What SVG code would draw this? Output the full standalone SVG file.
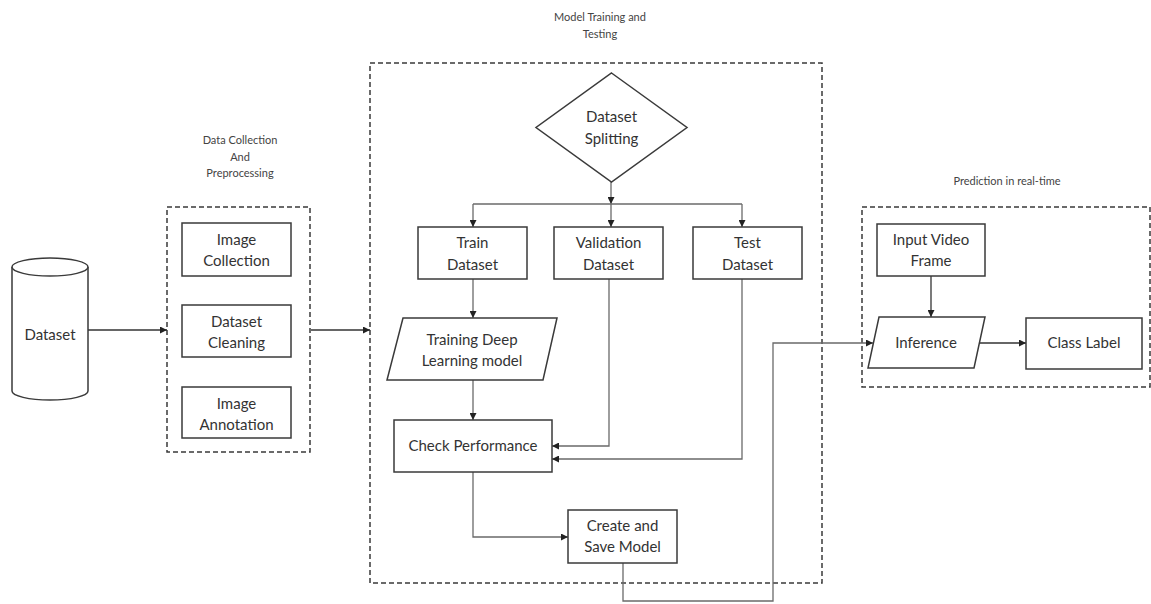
<svg xmlns="http://www.w3.org/2000/svg" width="1151" height="604" viewBox="0 0 1151 604">
<style>
.bg{fill:#ffffff}
.node{fill:#ffffff;stroke:#3a3a3a;stroke-width:1.5}
.group{fill:none;stroke:#3a3a3a;stroke-width:1.5;stroke-dasharray:5 3}
.t{font-family:Lato,"Open Sans","Liberation Sans",sans-serif;font-size:15px;fill:#333;text-anchor:middle}
.cap{font-family:Lato,"Open Sans","Liberation Sans",sans-serif;font-size:11px;fill:#444;text-anchor:middle}
.c{fill:none;stroke:#6a6a6a;stroke-width:1.3}
.cd{fill:none;stroke:#333;stroke-width:1.3}
</style>
<defs>
<marker id="ah" viewBox="0 0 10 10" refX="10" refY="5" markerWidth="7" markerHeight="7" markerUnits="userSpaceOnUse" orient="auto">
<path d="M0,0 L10,5 L0,10 z" fill="#222"/>
</marker>
</defs>
<rect class="bg" x="0" y="0" width="1151" height="604"/>

<g id="group-labels">
<text class="cap" x="240" y="144">Data Collection</text>
<text class="cap" x="240" y="161">And</text>
<text class="cap" x="240" y="177">Preprocessing</text>
<text class="cap" x="600" y="21">Model Training and</text>
<text class="cap" x="600" y="38">Testing</text>
<text class="cap" x="1007" y="185">Prediction in real-time</text>
</g>

<g id="group-boxes">
<rect class="group" x="167" y="207" width="143" height="245"/>
<rect class="group" x="370" y="63" width="452" height="520"/>
<rect class="group" x="862" y="207" width="288" height="180"/>
</g>

<g id="connectors">
<path class="cd" d="M88,330 H167" marker-end="url(#ah)"/>
<path class="cd" d="M311,330 H370" marker-end="url(#ah)"/>
<path class="c" d="M611,182 V204" marker-end="url(#ah)"/>
<path class="c" d="M473,204 H742"/>
<path class="c" d="M473,204 V227" marker-end="url(#ah)"/>
<path class="c" d="M611,204 V227" marker-end="url(#ah)"/>
<path class="c" d="M742,204 V227" marker-end="url(#ah)"/>
<path class="c" d="M473,279 V318" marker-end="url(#ah)"/>
<path class="c" d="M473,380 V420" marker-end="url(#ah)"/>
<path class="c" d="M609,279 V446 H552" marker-end="url(#ah)"/>
<path class="c" d="M742,279 V459 H552" marker-end="url(#ah)"/>
<path class="c" d="M473,472 V537 H568" marker-end="url(#ah)"/>
<path class="c" d="M623,563 V601 H773 V343 H873" marker-end="url(#ah)"/>
<path class="cd" d="M931,276 V317" marker-end="url(#ah)"/>
<path class="cd" d="M979,343 H1026" marker-end="url(#ah)"/>
</g>

<g id="node-dataset">
<path class="node" d="M12,267 V391 A38,9 0 0 0 88,391 V267"/>
<ellipse class="node" cx="50" cy="267" rx="38" ry="9"/>
<text class="t" x="50" y="340">Dataset</text>
</g>

<g id="node-image-collection">
<rect class="node" x="182" y="223" width="109" height="53"/>
<text class="t" x="236.5" y="245">Image</text>
<text class="t" x="236.5" y="266">Collection</text>
</g>

<g id="node-dataset-cleaning">
<rect class="node" x="182" y="305" width="109" height="52"/>
<text class="t" x="236.5" y="327">Dataset</text>
<text class="t" x="236.5" y="348">Cleaning</text>
</g>

<g id="node-image-annotation">
<rect class="node" x="182" y="387" width="109" height="51"/>
<text class="t" x="236.5" y="409">Image</text>
<text class="t" x="236.5" y="430">Annotation</text>
</g>

<g id="node-dataset-splitting">
<polygon class="node" points="611.5,73 687,127.5 611.5,182 536,127.5"/>
<text class="t" x="611.5" y="122">Dataset</text>
<text class="t" x="611.5" y="144">Splitting</text>
</g>

<g id="node-train-dataset">
<rect class="node" x="418" y="227" width="109" height="52"/>
<text class="t" x="472.5" y="248">Train</text>
<text class="t" x="472.5" y="270">Dataset</text>
</g>

<g id="node-validation-dataset">
<rect class="node" x="554" y="227" width="109" height="52"/>
<text class="t" x="608.5" y="248">Validation</text>
<text class="t" x="608.5" y="270">Dataset</text>
</g>

<g id="node-test-dataset">
<rect class="node" x="693" y="227" width="109" height="52"/>
<text class="t" x="747.5" y="248">Test</text>
<text class="t" x="747.5" y="270">Dataset</text>
</g>

<g id="node-training-model">
<polygon class="node" points="403,318 557,318 543,380 387,380"/>
<text class="t" x="472" y="345">Training Deep</text>
<text class="t" x="472" y="366">Learning model</text>
</g>

<g id="node-check-performance">
<rect class="node" x="394" y="420" width="158" height="52"/>
<text class="t" x="473" y="451">Check Performance</text>
</g>

<g id="node-create-save">
<rect class="node" x="568" y="510" width="109" height="53"/>
<text class="t" x="622.5" y="531">Create and</text>
<text class="t" x="622.5" y="552">Save Model</text>
</g>

<g id="node-input-video">
<rect class="node" x="877" y="224" width="108" height="52"/>
<text class="t" x="931" y="245">Input Video</text>
<text class="t" x="931" y="266">Frame</text>
</g>

<g id="node-inference">
<polygon class="node" points="879,317 985,317 974,368 868,368"/>
<text class="t" x="926" y="348">Inference</text>
</g>

<g id="node-class-label">
<rect class="node" x="1026" y="318" width="116" height="51"/>
<text class="t" x="1084" y="348">Class Label</text>
</g>
</svg>
